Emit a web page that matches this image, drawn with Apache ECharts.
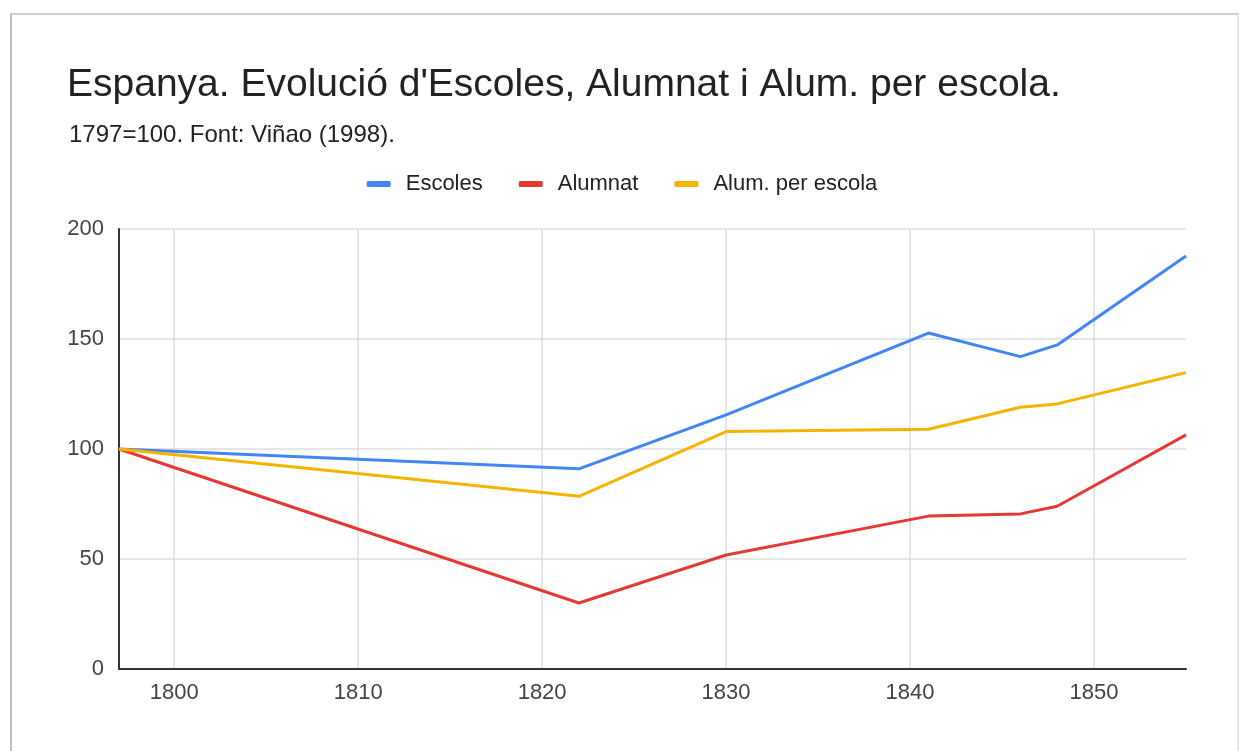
<!DOCTYPE html>
<html>
<head>
<meta charset="utf-8">
<script src="https://cdn.jsdelivr.net/npm/echarts@6/dist/echarts.min.js"></script>
<style>
  html, body { margin: 0; padding: 0; background: #ffffff; }
  .frame {
    position: absolute; left: 10px; top: 13px; width: 1229px; height: 740px;
    border-top: 2px solid #cfcfcf; border-left: 2px solid #bdbdbd;
    border-right: 2px solid #e6e6e6; box-sizing: border-box;
  }
  #chart { position: absolute; left: 0; top: 0; width: 1244px; height: 751px; }
</style>
</head>
<body>
<div class="frame"></div>
<div id="chart"></div>
<script>
// anys (1797 = 100)
const years = [1797, 1822, 1830, 1841, 1846, 1848, 1855]
const escoles = [100, 91, 115.5, 152.7, 142, 147.3, 187.7]
const alumnat = [100, 30, 51.8, 69.5, 70.5, 74, 106.4]
const alumPerEscola = [100, 78.5, 107.9, 109, 119, 120.5, 134.7]
const seriesNames = ['Escoles', 'Alumnat', 'Alum. per escola']
const colors = ['#4285f4', '#e53935', '#f4b400']

const font = '"Liberation Sans", Arial, sans-serif'
const chart = echarts.init(document.getElementById('chart'))

const pairs = arr => years.map((y, i) => [y, arr[i]])

chart.setOption({
  animation: false,
  title: [
    {
      text: "Espanya. Evolució d'Escoles, Alumnat i Alum. per escola.",
      left: 62, top: 61,
      textStyle: { fontFamily: font, fontSize: 39, fontWeight: 'normal', color: '#222' }
    },
    {
      text: '1797=100. Font: Viñao (1998).',
      left: 64, top: 118,
      textStyle: { fontFamily: font, fontSize: 24, fontWeight: 'normal', color: '#222' }
    }
  ],
  legend: {
    top: 168, left: 'center',
    itemWidth: 24, itemHeight: 6, itemGap: 36,
    icon: 'roundRect',
    textStyle: { fontFamily: font, fontSize: 22, color: '#222', padding: [0, 0, 0, 10] },
    data: seriesNames
  },
  grid: { left: 119, right: 58, top: 229, bottom: 82 },
  xAxis: {
    type: 'value', min: 1797, max: 1855,
    axisLine: { show: true, onZero: false, lineStyle: { color: '#333', width: 2 } },
    axisTick: { show: false },
    axisLabel: {
      showMinLabel: false, showMaxLabel: false, margin: 13,
      fontFamily: font, fontSize: 22, color: '#444',
      formatter: v => String(v)
    },
    splitLine: { show: true, showMinLine: false, showMaxLine: false, lineStyle: { color: '#dddddd', width: 1.5 } }
  },
  yAxis: {
    type: 'value', min: 0, max: 200, interval: 50,
    axisLine: { show: true, lineStyle: { color: '#333', width: 2 } },
    axisTick: { show: false },
    axisLabel: { margin: 15, fontFamily: font, fontSize: 22, color: '#444' },
    splitLine: { lineStyle: { color: '#dddddd', width: 1.5 } }
  },
  series: [
    { name: seriesNames[0], type: 'line', data: pairs(escoles), color: colors[0] },
    { name: seriesNames[1], type: 'line', data: pairs(alumnat), color: colors[1] },
    { name: seriesNames[2], type: 'line', data: pairs(alumPerEscola), color: colors[2] }
  ].map(s => Object.assign(s, { showSymbol: false, lineStyle: { width: 3 } }))
})
</script>
</body>
</html>
